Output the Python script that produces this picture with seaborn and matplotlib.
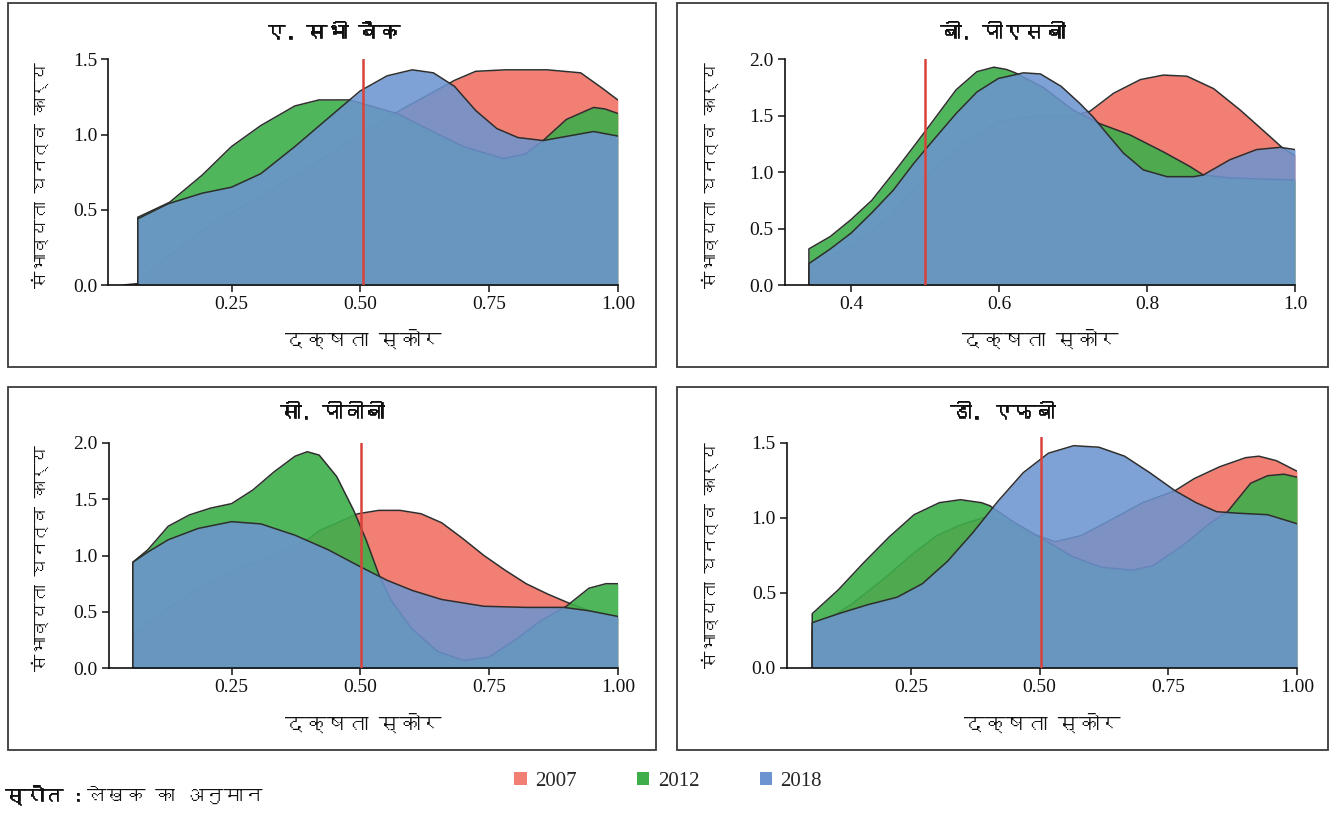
import matplotlib
matplotlib.use('Agg')
import matplotlib.pyplot as plt
import matplotlib.patheffects as pe
import seaborn as sns
from matplotlib import font_manager
from matplotlib.ft2font import FT2Font
from matplotlib.patches import Patch, Rectangle
from matplotlib.ticker import FormatStrFormatter

# ---- data ----
years = ['2007', '2012', '2018']
colors = ['#F27F74', '#3DAE4A', '#6C94D0']
alphas = [1.0, 0.9, 0.87]

titles = ['ए. सभी बैंक', 'बी. पीएसबी', 'सी. पीवीबी', 'डी. एफबी']
xlabel = 'दक्षता स्कोर'
ylabel = 'संभाव्यता घनत्व कार्य'

# A. all banks
a07_x = [0.04, 0.07, 0.10, 0.20, 0.30, 0.40, 0.50, 0.577, 0.63, 0.683, 0.724, 0.781, 0.863, 0.928, 0.969, 1.0]
a07_y = [0.0, 0.01, 0.12, 0.38, 0.58, 0.78, 1.00, 1.16, 1.26, 1.36, 1.42, 1.43, 1.43, 1.41, 1.31, 1.23]
a12_x = [0.068, 0.13, 0.193, 0.25, 0.307, 0.373, 0.42, 0.479, 0.571, 0.635, 0.70, 0.778, 0.82, 0.855, 0.90, 0.953, 0.975, 1.0]
a12_y = [0.45, 0.55, 0.73, 0.92, 1.06, 1.19, 1.23, 1.23, 1.14, 1.03, 0.92, 0.84, 0.87, 0.96, 1.10, 1.18, 1.17, 1.14]
a18_x = [0.068, 0.127, 0.193, 0.25, 0.307, 0.373, 0.438, 0.50, 0.552, 0.601, 0.642, 0.683, 0.724, 0.765, 0.806, 0.855, 0.904, 0.953, 1.0]
a18_y = [0.44, 0.54, 0.61, 0.65, 0.74, 0.92, 1.11, 1.29, 1.39, 1.43, 1.41, 1.32, 1.16, 1.04, 0.98, 0.96, 0.99, 1.02, 0.99]

# B. PSB
b07_x = [0.343, 0.40, 0.45, 0.50, 0.55, 0.60, 0.65, 0.70, 0.723, 0.755, 0.791, 0.822, 0.854, 0.89, 0.926, 0.962, 0.984, 1.0]
b07_y = [0.15, 0.35, 0.60, 0.95, 1.25, 1.45, 1.50, 1.50, 1.54, 1.70, 1.82, 1.86, 1.85, 1.74, 1.55, 1.34, 1.21, 1.15]
b12_x = [0.343, 0.372, 0.40, 0.428, 0.457, 0.485, 0.508, 0.542, 0.570, 0.593, 0.61, 0.622, 0.66, 0.70, 0.736, 0.777, 0.822, 0.858, 0.876, 0.91, 0.95, 1.0]
b12_y = [0.32, 0.43, 0.58, 0.75, 0.99, 1.23, 1.43, 1.73, 1.89, 1.93, 1.91, 1.88, 1.75, 1.55, 1.43, 1.33, 1.18, 1.05, 0.975, 0.95, 0.94, 0.93]
b18_x = [0.343, 0.372, 0.40, 0.428, 0.457, 0.485, 0.508, 0.542, 0.570, 0.599, 0.633, 0.656, 0.684, 0.709, 0.727, 0.746, 0.768, 0.795, 0.827, 0.863, 0.876, 0.912, 0.948, 0.98, 1.0]
b18_y = [0.19, 0.32, 0.46, 0.64, 0.84, 1.08, 1.26, 1.52, 1.71, 1.83, 1.88, 1.87, 1.76, 1.61, 1.49, 1.34, 1.17, 1.02, 0.96, 0.96, 0.975, 1.11, 1.20, 1.22, 1.20]

# C. PVB
c07_x = [0.058, 0.10, 0.20, 0.30, 0.36, 0.40, 0.42, 0.46, 0.495, 0.536, 0.577, 0.618, 0.658, 0.699, 0.74, 0.781, 0.822, 0.863, 0.904, 0.95, 1.0]
c07_y = [0.30, 0.45, 0.75, 0.95, 1.05, 1.15, 1.22, 1.30, 1.37, 1.40, 1.40, 1.37, 1.29, 1.15, 1.00, 0.87, 0.75, 0.66, 0.58, 0.50, 0.45]
c12_x = [0.058, 0.087, 0.127, 0.168, 0.209, 0.25, 0.291, 0.332, 0.373, 0.397, 0.42, 0.454, 0.487, 0.511, 0.536, 0.56, 0.60, 0.65, 0.70, 0.75, 0.80, 0.85, 0.90, 0.944, 0.977, 1.0]
c12_y = [0.94, 1.05, 1.26, 1.36, 1.42, 1.46, 1.58, 1.74, 1.88, 1.92, 1.89, 1.70, 1.40, 1.14, 0.83, 0.60, 0.35, 0.15, 0.07, 0.10, 0.25, 0.42, 0.55, 0.71, 0.75, 0.75]
c18_x = [0.058, 0.087, 0.127, 0.185, 0.25, 0.307, 0.373, 0.438, 0.50, 0.552, 0.601, 0.658, 0.74, 0.822, 0.895, 0.944, 1.0]
c18_y = [0.94, 1.03, 1.14, 1.24, 1.30, 1.28, 1.18, 1.05, 0.90, 0.78, 0.69, 0.61, 0.55, 0.54, 0.54, 0.51, 0.46]

# D. FB
d07_x = [0.058, 0.137, 0.20, 0.25, 0.30, 0.345, 0.39, 0.43, 0.48, 0.53, 0.58, 0.63, 0.70, 0.763, 0.80, 0.85, 0.90, 0.926, 0.96, 1.0]
d07_y = [0.25, 0.43, 0.60, 0.75, 0.88, 0.95, 1.00, 0.98, 0.90, 0.84, 0.88, 0.97, 1.10, 1.18, 1.26, 1.34, 1.40, 1.41, 1.38, 1.31]
d12_x = [0.058, 0.109, 0.158, 0.207, 0.256, 0.305, 0.346, 0.387, 0.403, 0.45, 0.50, 0.564, 0.62, 0.68, 0.72, 0.78, 0.83, 0.865, 0.91, 0.943, 0.975, 1.0]
d12_y = [0.36, 0.52, 0.70, 0.87, 1.02, 1.10, 1.12, 1.10, 1.08, 0.97, 0.87, 0.74, 0.67, 0.65, 0.68, 0.82, 0.96, 1.04, 1.23, 1.28, 1.29, 1.27]
d18_x = [0.058, 0.109, 0.166, 0.223, 0.272, 0.321, 0.37, 0.419, 0.468, 0.517, 0.566, 0.615, 0.665, 0.714, 0.763, 0.804, 0.844, 0.885, 0.943, 1.0]
d18_y = [0.30, 0.36, 0.42, 0.47, 0.56, 0.71, 0.90, 1.11, 1.30, 1.43, 1.48, 1.47, 1.41, 1.30, 1.18, 1.10, 1.04, 1.03, 1.02, 0.96]

panels = [
    [(a07_x, a07_y), (a12_x, a12_y), (a18_x, a18_y)],
    [(b07_x, b07_y), (b12_x, b12_y), (b18_x, b18_y)],
    [(c07_x, c07_y), (c12_x, c12_y), (c18_x, c18_y)],
    [(d07_x, d07_y), (d12_x, d12_y), (d18_x, d18_y)],
]
xlims = [(0.011, 1.0), (0.31, 1.0), (0.011, 1.0), (0.009, 1.0)]
ylims = [(0, 1.5), (0, 2.0), (0, 2.0), (0, 1.54)]
xticks = [[0.25, 0.5, 0.75, 1.0], [0.4, 0.6, 0.8, 1.0], [0.25, 0.5, 0.75, 1.0], [0.25, 0.5, 0.75, 1.0]]
yticks = [[0, 0.5, 1.0, 1.5], [0, 0.5, 1.0, 1.5, 2.0], [0, 0.5, 1.0, 1.5, 2.0], [0, 0.5, 1.0, 1.5]]
xfmt = ['%.2f', '%.1f', '%.2f', '%.2f']
vline_x = [0.505, 0.50, 0.502, 0.502]


def find_font(ch):
    for f in font_manager.fontManager.ttflist:
        try:
            if ord(ch) in FT2Font(f.fname).get_charmap():
                return f.name
        except Exception:
            pass
    return None


sns.set_theme(style='ticks')
deva = find_font('क') or 'Noto Sans'
plt.rcParams['font.family'] = [deva, 'DejaVu Sans']
serif = ['Liberation Serif', 'DejaVu Serif']
fake_bold = [pe.withStroke(linewidth=0.5, foreground='#111111')]

W, H = 1330, 816
fig = plt.figure(figsize=(W / 100, H / 100), dpi=100)


def fx(x):
    return x / W


def fy(y):
    return 1 - y / H


# panel frames (pixels): left, top, right, bottom
frames = [(8, 3, 656, 367), (677, 3, 1328, 367), (8, 387, 656, 750), (677, 387, 1328, 750)]
# axes boxes (pixels): left, right, top, bottom
boxes = [(108.4, 617.8, 59.3, 285), (784.5, 1295, 59.3, 285),
         (108.6, 617.8, 442.7, 668.3), (787, 1297, 436.7, 667.7)]
title_y = [33, 33, 413, 413]
xlab_y = [340, 340, 724, 724]
ylab_x = [40, 710, 40, 710]

for i in range(4):
    l, t, r, b = frames[i]
    fig.add_artist(Rectangle((fx(l), fy(b)), fx(r - l), (b - t) / H, transform=fig.transFigure,
                             fill=False, ec='#3a3a3a', lw=1.3))
    al, ar, at, ab = boxes[i]
    ax = fig.add_axes([fx(al), fy(ab), fx(ar - al), (ab - at) / H])
    ax.set_facecolor('none')

    # draw year by year: each fill covers the earlier edges (layered kde look)
    for k, ((xs, ys), c, a) in enumerate(zip(panels[i], colors, alphas)):
        ax.fill_between(xs, ys, 0, color=c, alpha=a, lw=0, zorder=1 + 0.2 * k)
        sns.lineplot(x=[xs[0]] + xs, y=[0] + ys, ax=ax, color='#2e2e2e', lw=1.1,
                     sort=False, estimator=None, zorder=1.1 + 0.2 * k)
    ax.axvline(vline_x[i], color='#D8423A', lw=1.8, zorder=5)

    ax.set_xlim(*xlims[i])
    ax.set_ylim(*ylims[i])
    ax.set_xticks(xticks[i])
    ax.set_yticks(yticks[i])
    ax.xaxis.set_major_formatter(FormatStrFormatter(xfmt[i]))
    ax.yaxis.set_major_formatter(FormatStrFormatter('%.1f'))
    sns.despine(ax=ax)
    for s in ['left', 'bottom']:
        ax.spines[s].set_color('#111111')
        ax.spines[s].set_linewidth(1.2)
    ax.spines['left'].set_bounds(0, yticks[i][-1])
    ax.tick_params(axis='both', length=5, width=1.1, color='#111111', labelsize=14,
                   labelcolor='#111111', pad=3)
    for lab in ax.get_xticklabels() + ax.get_yticklabels():
        lab.set_family(serif)
    ax.set_xlabel('')
    ax.set_ylabel('')

    fig.text(fx((l + r) / 2), fy(title_y[i]), titles[i], ha='center', va='center',
             fontsize=15, fontweight='bold', color='#111111', path_effects=fake_bold)
    fig.text(fx((al + ar) / 2), fy(xlab_y[i]), xlabel, ha='center', va='center',
             fontsize=15, color='#111111')
    fig.text(fx(ylab_x[i]), fy((at + ab) / 2 + 3), ylabel, ha='center', va='center',
             rotation=90, fontsize=12.5, color='#111111')

handles = [Patch(facecolor=c, edgecolor='none', label=y) for c, y in zip(colors, years)]
fig.legend(handles=handles, loc='center', bbox_to_anchor=(fx(668), fy(781)), ncol=3,
           frameon=False, handlelength=0.6, handleheight=0.6, handletextpad=0.4,
           columnspacing=2.9, prop={'family': serif, 'size': 15})

src_bold = fig.text(fx(5), fy(795), 'स्रोत :', ha='left', va='center', fontsize=14,
                    fontweight='bold', color='#111111', path_effects=fake_bold)
fig.canvas.draw()
bb = src_bold.get_window_extent()
fig.text(fx(bb.x1 + 4), fy(795), 'लेखक का अनुमान', ha='left', va='center', fontsize=14,
         color='#111111')

fig.savefig('out.png', dpi=100)
